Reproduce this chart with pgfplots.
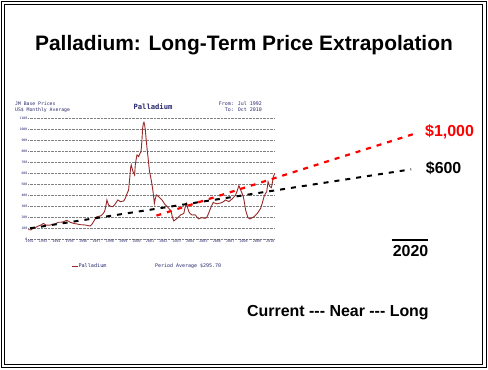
\documentclass[border=0pt]{standalone}
\usepackage{fontspec}
\setmainfont{Liberation Sans}
\newfontfamily\monof{DejaVu Sans Mono}
\usepackage{pgfplots}
\pgfplotsset{compat=1.18}
\definecolor{navy}{RGB}{40,40,110}
\definecolor{pdred}{RGB}{150,40,40}

\begin{document}
\begin{tikzpicture}[x=1bp,y=1bp]
\useasboundingbox (0,0) rectangle (488,369);
\draw[line width=0.8bp] (1.5,1.5) rectangle (486.5,367.5);
\draw[line width=0.8bp] (4.5,4.5) rectangle (482.5,364.5);
\node[font=\bfseries\fontsize{21}{21}\selectfont, inner sep=0] at (244,324) {Palladium: Long-Term Price Extrapolation};

\begin{axis}[at={(28.3bp,129.7bp)}, anchor=south west, scale only axis,
  width=246.7bp, height=121bp,
  xmin=1992.5, xmax=2010.95, ymin=0, ymax=1100, clip=false,
  axis line style={draw=none}, major tick length=0pt,
  ymajorgrids, grid style={densely dotted, gray, line width=0.5bp},
  ytick={0,100,200,300,400,500,600,700,800,900,1000,1100},
  yticklabels={0,100,200,300,400,500,600,700,800,900,1000,1100},
  yticklabel style={font=\monof\fontsize{3.2}{3.2}\selectfont, text=navy, inner sep=0.8bp},
  xtick={1992.6,1993.6,1994.6,1995.6,1996.6,1997.6,1998.6,1999.6,2000.6,2001.6,2002.6,2003.6,2004.6,2005.6,2006.6,2007.6,2008.6,2009.6,2010.6},
  xticklabels={1992,1993,1994,1995,1996,1997,1998,1999,2000,2001,2002,2003,2004,2005,2006,2007,2008,2009,2010},
  xticklabel style={font=\monof\fontsize{3.4}{3.4}\selectfont, text=navy, inner sep=0.8bp},
]
\addplot[pdred, line width=0.9bp, mark=none] coordinates {
(1992.5,88) (1992.7,86) (1992.88,100) (1993.05,108) (1993.25,121) (1993.45,130) (1993.63,145) (1993.8,130) (1994.0,128) (1994.13,130) (1994.3,134) (1994.5,139) (1994.75,155) (1994.95,155) (1995.13,160) (1995.38,173) (1995.5,165) (1995.63,155) (1995.8,148) (1996.0,142) (1996.2,138) (1996.38,133) (1996.55,132) (1996.75,130) (1996.95,125) (1997.13,121) (1997.25,135) (1997.38,160) (1997.5,185) (1997.63,206) (1997.8,210) (1997.95,215) (1998.1,235) (1998.2,252) (1998.3,300) (1998.38,358) (1998.45,330) (1998.5,312) (1998.65,300) (1998.8,297) (1998.95,312) (1999.1,340) (1999.2,358) (1999.3,350) (1999.38,342) (1999.5,345) (1999.63,348) (1999.72,365) (1999.8,388) (1999.9,420) (2000.0,448) (2000.08,550) (2000.15,650) (2000.2,676) (2000.27,640) (2000.33,615) (2000.45,585) (2000.5,676) (2000.57,730) (2000.63,767) (2000.7,760) (2000.75,752) (2000.85,780) (2000.93,797) (2001.0,900) (2001.05,1009) (2001.1,1050) (2001.15,1064) (2001.2,1040) (2001.25,994) (2001.32,900) (2001.38,827) (2001.44,760) (2001.5,691) (2001.56,620) (2001.63,580) (2001.72,520) (2001.83,433) (2001.93,327) (2002.0,370) (2002.08,403) (2002.17,395) (2002.25,388) (2002.38,372) (2002.5,358) (2002.62,335) (2002.75,312) (2002.88,300) (2003.0,282) (2003.1,268) (2003.18,252) (2003.28,200) (2003.38,167) (2003.5,178) (2003.63,191) (2003.75,205) (2003.88,221) (2004.0,228) (2004.13,236) (2004.23,290) (2004.33,327) (2004.42,285) (2004.5,252) (2004.62,232) (2004.75,221) (2004.88,222) (2005.0,221) (2005.12,200) (2005.25,185) (2005.38,193) (2005.5,197) (2005.62,192) (2005.75,191) (2005.85,200) (2005.93,221) (2006.03,250) (2006.13,282) (2006.23,310) (2006.33,336) (2006.42,330) (2006.5,327) (2006.62,322) (2006.75,327) (2006.88,330) (2007.0,336) (2007.12,345) (2007.25,358) (2007.38,350) (2007.5,342) (2007.62,355) (2007.75,367) (2007.88,385) (2008.0,403) (2008.12,440) (2008.2,470) (2008.25,488) (2008.32,465) (2008.38,448) (2008.48,420) (2008.58,388) (2008.67,330) (2008.75,267) (2008.85,225) (2008.93,197) (2009.0,190) (2009.08,185) (2009.2,192) (2009.38,206) (2009.5,220) (2009.63,236) (2009.75,258) (2009.88,282) (2010.0,330) (2010.13,388) (2010.23,415) (2010.33,433) (2010.43,524) (2010.5,500) (2010.56,479) (2010.68,470) (2010.76,520) (2010.83,570) (2010.93,600)
};
\addplot[black, line width=2bp, dash pattern=on 5bp off 6bp, mark=none] coordinates {(1992.63,100) (2021.13,636)};
\addplot[red, line width=2.2bp, dash pattern=on 5bp off 6bp, mark=none] coordinates {(2002.08,215) (2021.26,955)};
\end{axis}

\node[anchor=west, inner sep=0, font=\monof\fontsize{4.8}{4.8}\selectfont, text=navy] at (15,265) {JM Base Prices};
\node[anchor=west, inner sep=0, font=\monof\fontsize{4.8}{4.8}\selectfont, text=navy] at (15,259) {US\$ Monthly Average};
\node[inner sep=0, font=\monof\bfseries\fontsize{7.2}{7.2}\selectfont, text=navy] at (153,262) {Palladium};
\node[anchor=east, inner sep=0, font=\monof\fontsize{5}{5}\selectfont, text=navy] at (262,265.3) {From: Jul 1992};
\node[anchor=east, inner sep=0, font=\monof\fontsize{5}{5}\selectfont, text=navy] at (262,259) {To: Oct 2010};
\draw[pdred, line width=1bp] (71.7,103) -- (77.7,103);
\node[anchor=west, inner sep=0, font=\monof\fontsize{5.2}{5.2}\selectfont, text=navy] at (78.3,103) {Palladium};
\node[anchor=west, inner sep=0, font=\monof\fontsize{5}{5}\selectfont, text=navy] at (155,103) {Period Average \$295.70};

\node[anchor=west, inner sep=0, text=red, font=\bfseries\fontsize{16}{16}\selectfont] at (425,237) {\$1,000};
\node[anchor=west, inner sep=0, text=black, font=\bfseries\fontsize{16}{16}\selectfont] at (425.7,201) {\$600};
\draw[line width=2bp] (391.7,129) -- (428,129);
\node[inner sep=0, font=\bfseries\fontsize{16}{16}\selectfont] at (410.5,117.5) {2020};
\node[anchor=west, inner sep=0, font=\bfseries\fontsize{16}{16}\selectfont] at (247,56) {Current -{}-{}- Near -{}-{}- Long};
\end{tikzpicture}
\end{document}
